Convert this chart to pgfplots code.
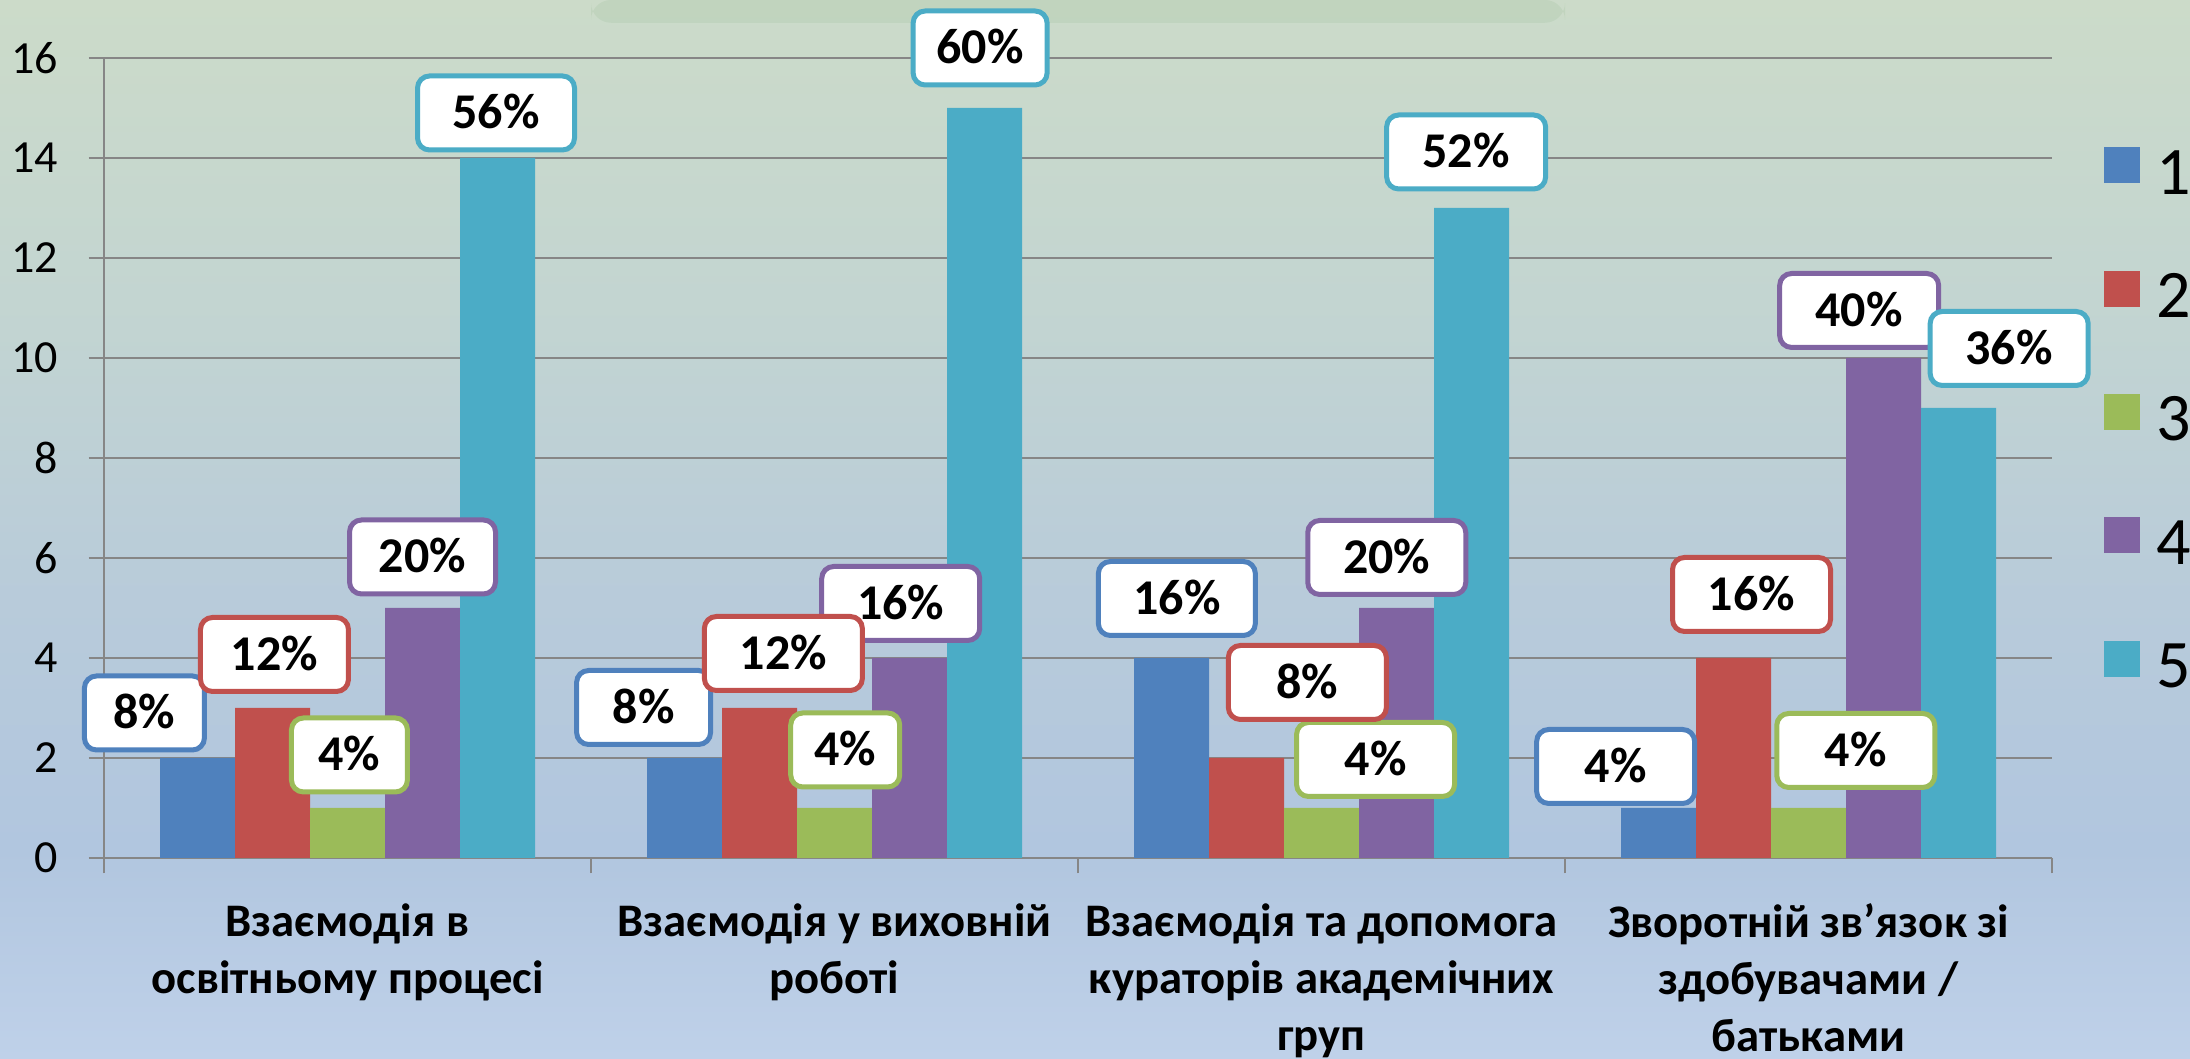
\documentclass[border=0pt]{standalone}
\usepackage{pgfplots}
\usepackage{pgfplotstable}
\pgfplotsset{compat=1.18}
\usepackage{fontspec}
\setmainfont{Carlito}
\definecolor{cb}{HTML}{4F81BD}
\definecolor{cr}{HTML}{C0504D}
\definecolor{cg}{HTML}{9BBB59}
\definecolor{cp}{HTML}{8064A2}
\definecolor{ct}{HTML}{4BACC6}
\definecolor{gridc}{HTML}{868686}
\definecolor{bgA}{HTML}{CCDBC9}
\definecolor{bgB}{HTML}{C3D5D1}
\definecolor{bgC}{HTML}{B8CBDA}
\definecolor{bgD}{HTML}{B1C6DF}
\definecolor{bgE}{HTML}{BFD1E9}
\pgfdeclareverticalshading{slidebg}{100bp}{color(0bp)=(bgE); color(25bp)=(bgE); color(34.9bp)=(bgD); color(46.7bp)=(bgC); color(60.8bp)=(bgB); color(75bp)=(bgA); color(100bp)=(bgA)}

\pgfplotstableread{
x a b c d e
0 2 3 1 5 14
1 2 3 1 4 15
2 4 2 1 5 13
3 1 4 1 10 9
}\bars

% label centres (data units), text, box width in px
\pgfplotstableread{
x y lbl w
-0.417 2.90 8\% 125
0.608 3.01 8\% 139
1.703 5.19 16\% 162
2.604 1.83 4\% 163
}\lblb
\pgfplotstableread{
x y lbl w
-0.150 4.07 12\% 153
0.895 4.09 12\% 163
1.971 3.51 8\% 163
2.883 5.27 16\% 163
}\lblr
\pgfplotstableread{
x y lbl w
0.004 2.06 4\% 121
1.022 2.16 4\% 114
2.111 1.97 4\% 163
3.097 2.15 4\% 163
}\lblg
\pgfplotstableread{
x y lbl w
0.154 6.02 20\% 151
1.136 5.09 16\% 163
2.134 6.01 20\% 163
3.104 10.95 40\% 164
}\lblp
\pgfplotstableread{
x y lbl w
0.305 14.90 56\% 162
1.299 16.20 60\% 139
2.297 14.12 52\% 164
3.412 10.19 36\% 163
}\lblt

\pgfplotsset{
  pctlabels/.style={forget plot, only marks, mark=*, mark size=0pt, mark options={draw=none,fill=none},
    point meta=explicit symbolic,
    visualization depends on={\thisrow{w}\as\wbox},
    nodes near coords,
    every node near coord/.append style={anchor=center, draw=#1, fill=white, line width=1.5pt,
      rounded corners=3.6pt, minimum width=\wbox*0.3pt-1.5pt, minimum height=22.2pt, inner sep=1pt,
      font=\bfseries\fontsize{15}{18}\selectfont, text=black, text height=9.5pt, text depth=0pt}},
}

\begin{document}
\begin{tikzpicture}
\begin{axis}[
  set layers,
  scale only axis, width=584.4pt, height=240pt,
  xmin=-0.5, xmax=3.5, ymin=0, ymax=16,
  clip=false,
  axis x line*=bottom, axis y line*=left,
  axis line style={-, draw=gridc, line width=0.6pt},
  tick align=outside,
  major tick length=4.6pt,
  ytick={0,2,...,16},
  ymajorgrids,
  major grid style={draw=gridc, line width=0.6pt},
  ytick style={draw=gridc, line width=0.6pt},
  yticklabel style={font=\fontsize{13.8}{16}\selectfont, text=black, xshift=-5.7pt},
  /pgf/number format/assume math mode=true,
  xtick={-0.5,0.5,1.5,2.5,3.5},
  xticklabels={},
  xtick style={draw=gridc, line width=0.6pt},
  extra x ticks={0,1,2,3},
  extra x tick labels={{Взаємодія в\\освітньому процесі},{Взаємодія у виховній\\роботі},{Взаємодія та допомога\\кураторів академічних\\груп},{Зворотній зв’язок зі\\здобувачами /\\батьками}},
  extra x tick style={major tick length=0pt, grid=none},
  xticklabel style={font=\bfseries\fontsize{14}{17.1}\selectfont, align=center, anchor=north, yshift=-10.2pt, text=black},
  legend style={at={(1.0267,0.5505)}, anchor=west, draw=none, fill=none, inner sep=0pt, outer sep=0pt,
    font=\fontsize{20.4}{24}\selectfont, row sep=22.95pt, column sep=5pt,
    nodes={inner sep=0pt, text height=12.9pt, text depth=0pt}},
  legend image code/.code={\fill[#1,draw=none] (0pt,-3.2pt) rectangle (10.8pt,7.6pt);},
]
\begin{pgfonlayer}{axis background}
\shade[shading=slidebg] (axis description cs:-0.05339,-0.25125) rectangle (axis description cs:1.07084,1.0725);
\fill[color=black!50!green!60!gray, opacity=0.07, rounded corners=6pt] (axis description cs:0.25,1.044) rectangle (axis description cs:0.75,1.0725);
\end{pgfonlayer}
\coordinate (BL) at (axis description cs:-0.05339,-0.25125);
\coordinate (TR) at (axis description cs:1.07084,1.0725);
\addplot[ybar, bar width=0.154, bar shift=-0.308, fill=cb, draw=none] table[x=x,y=a]{\bars};
\addplot[ybar, bar width=0.154, bar shift=-0.154, fill=cr, draw=none] table[x=x,y=b]{\bars};
\addplot[ybar, bar width=0.154, bar shift=0, fill=cg, draw=none] table[x=x,y=c]{\bars};
\addplot[ybar, bar width=0.154, bar shift=0.154, fill=cp, draw=none] table[x=x,y=d]{\bars};
\addplot[ybar, bar width=0.154, bar shift=0.308, fill=ct, draw=none] table[x=x,y=e]{\bars};
\legend{1,2,3,4,5}
\addplot[pctlabels=cb] table[x=x,y=y,meta=lbl]{\lblb};
\addplot[pctlabels=cg] table[x=x,y=y,meta=lbl]{\lblg};
\addplot[pctlabels=cp] table[x=x,y=y,meta=lbl]{\lblp};
\addplot[pctlabels=cr] table[x=x,y=y,meta=lbl]{\lblr};
\addplot[pctlabels=ct] table[x=x,y=y,meta=lbl]{\lblt};
\end{axis}
\pgfresetboundingbox
\path[use as bounding box] (BL) rectangle (TR);
\end{tikzpicture}
\end{document}
